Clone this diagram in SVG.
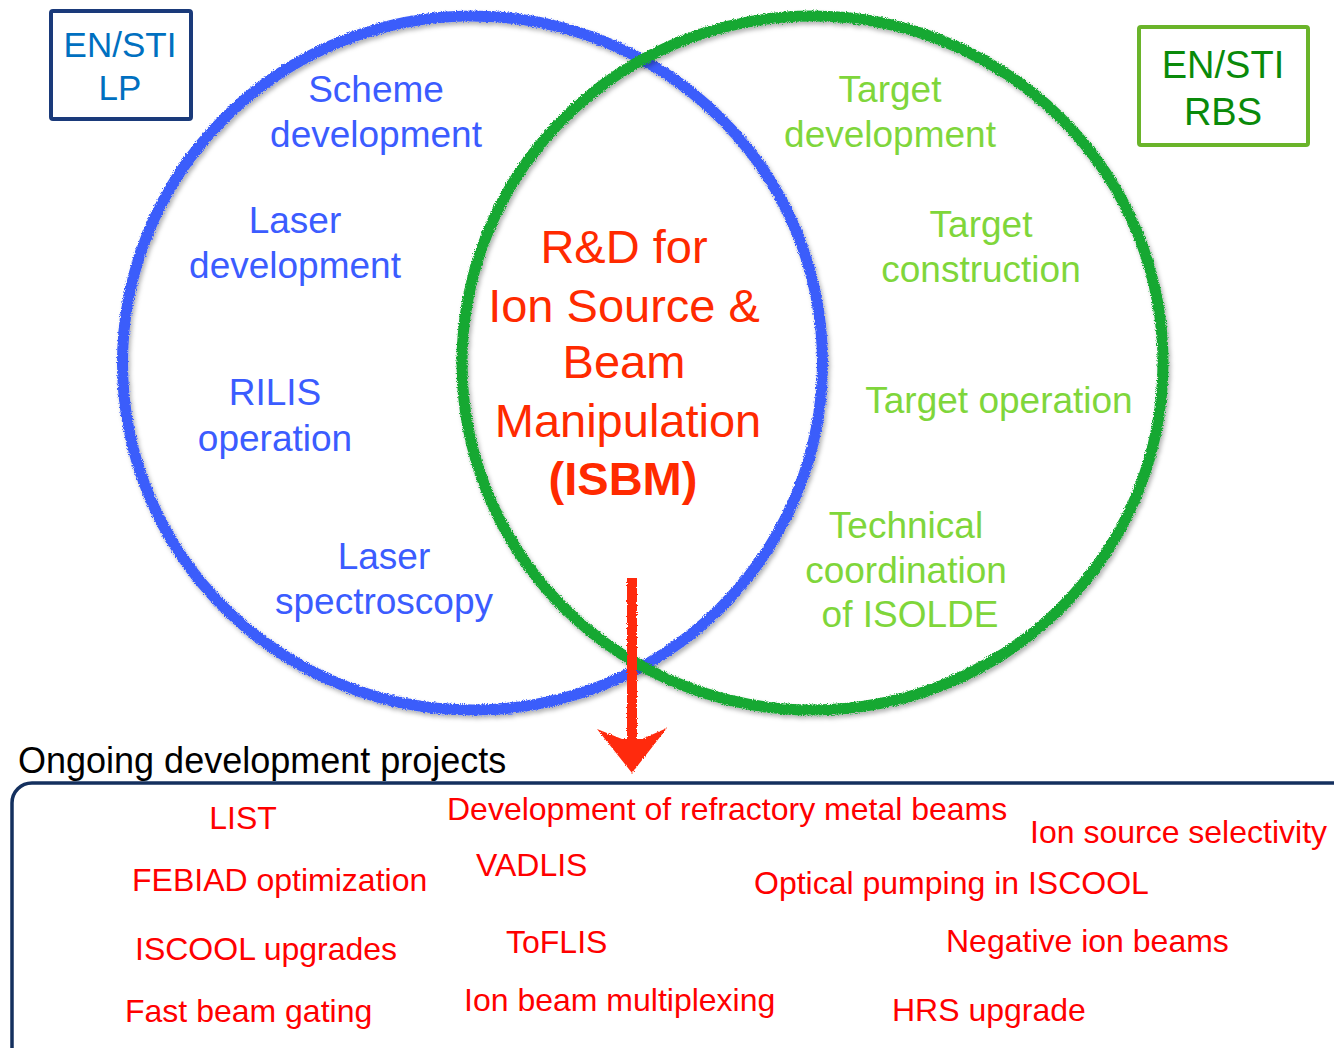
<svg xmlns="http://www.w3.org/2000/svg" width="1334" height="1048" viewBox="0 0 1334 1048">
<defs>
<filter id="chalk" x="-5%" y="-5%" width="110%" height="110%">
<feTurbulence type="fractalNoise" baseFrequency="0.9" numOctaves="2" seed="3" result="n"/>
<feDisplacementMap in="SourceGraphic" in2="n" scale="4" xChannelSelector="R" yChannelSelector="G" result="d"/>
<feGaussianBlur in="d" stdDeviation="2" result="b"/>
<feOffset in="b" dx="2" dy="3" result="o"/>
<feFlood flood-color="#000" flood-opacity="0.3"/>
<feComposite in2="o" operator="in" result="s"/>
<feMerge><feMergeNode in="s"/><feMergeNode in="d"/></feMerge>
</filter>
<filter id="chalk2" x="-20%" y="-5%" width="140%" height="110%">
<feTurbulence type="fractalNoise" baseFrequency="0.9" numOctaves="2" seed="7" result="n"/>
<feDisplacementMap in="SourceGraphic" in2="n" scale="3" xChannelSelector="R" yChannelSelector="G"/>
</filter>
</defs>
<style>
text{font-family:"Liberation Sans",Arial,sans-serif}
.b{fill:#3b5cff;font-size:37px;text-anchor:middle}
.g{fill:#7fd63b;font-size:37px;text-anchor:middle}
.c{fill:#ff2a00;font-size:47px;text-anchor:middle}
.r{fill:#ff0000;font-size:32px}
.ring{fill:none;stroke-width:11}
</style>
<rect width="1334" height="1048" fill="#fff"/>

<g id="circle-lp">
<ellipse class="ring" cx="472.5" cy="363" rx="350" ry="347" stroke="#3a5dfb" filter="url(#chalk)"/>
<text class="b" x="376" y="102">Scheme</text>
<text class="b" x="376" y="147">development</text>
<text class="b" x="295" y="233">Laser</text>
<text class="b" x="295" y="278">development</text>
<text class="b" x="275" y="405">RILIS</text>
<text class="b" x="275" y="451">operation</text>
<text class="b" x="384" y="569">Laser</text>
<text class="b" x="384" y="614">spectroscopy</text>
</g>

<g id="circle-rbs">
<ellipse class="ring" cx="812.5" cy="363" rx="350.5" ry="347" stroke="#16a832" filter="url(#chalk)"/>
<text class="g" x="890" y="102">Target</text>
<text class="g" x="890" y="147">development</text>
<text class="g" x="981" y="237">Target</text>
<text class="g" x="981" y="282">construction</text>
<text class="g" x="999" y="413">Target operation</text>
<text class="g" x="906" y="538">Technical</text>
<text class="g" x="906" y="583">coordination</text>
<text class="g" x="910" y="627">of ISOLDE</text>
</g>

<g id="isbm">
<text class="c" x="624" y="263">R&amp;D for</text>
<text class="c" x="624" y="322">Ion Source &amp;</text>
<text class="c" x="624" y="378">Beam</text>
<text class="c" x="628" y="437">Manipulation</text>
<text class="c" x="623" y="495" font-weight="bold">(ISBM)</text>
</g>

<g id="box-lp">
<rect x="51" y="11" width="140" height="108" fill="none" stroke="#1a3a7a" stroke-width="4" rx="2"/>
<text x="120" y="57" fill="#0070c0" font-size="35" text-anchor="middle">EN/STI</text>
<text x="120" y="100" fill="#0070c0" font-size="35" text-anchor="middle">LP</text>
</g>

<g id="box-rbs">
<rect x="1139" y="27" width="169" height="118" fill="none" stroke="#6ab42a" stroke-width="4" rx="2"/>
<text x="1223" y="78" fill="#0a8a0a" font-size="38" text-anchor="middle">EN/STI</text>
<text x="1223" y="125" fill="#0a8a0a" font-size="38" text-anchor="middle">RBS</text>
</g>

<g id="connectors">
<g filter="url(#chalk2)" fill="#ff2a10">
<line x1="632" y1="578" x2="632" y2="745" stroke="#ff2a10" stroke-width="10"/>
<polygon points="597,729 622,739 642,739 667,728 632,773"/>
</g>
</g>

<g id="projects">
<text x="18" y="773" fill="#000" font-size="36">Ongoing development projects</text>
<rect x="12" y="783" width="1360" height="320" rx="20" fill="none" stroke="#14305e" stroke-width="3.5"/>
<text class="r" x="243" y="829" text-anchor="middle">LIST</text>
<text class="r" x="447" y="820">Development of refractory metal beams</text>
<text class="r" x="1030" y="843">Ion source selectivity</text>
<text class="r" x="132" y="891">FEBIAD optimization</text>
<text class="r" x="476" y="876">VADLIS</text>
<text class="r" x="754" y="894">Optical pumping in ISCOOL</text>
<text class="r" x="135" y="960">ISCOOL upgrades</text>
<text class="r" x="506" y="953">ToFLIS</text>
<text class="r" x="946" y="952">Negative ion beams</text>
<text class="r" x="125" y="1022">Fast beam gating</text>
<text class="r" x="464" y="1011">Ion beam multiplexing</text>
<text class="r" x="892" y="1021">HRS upgrade</text>
</g>
</svg>
